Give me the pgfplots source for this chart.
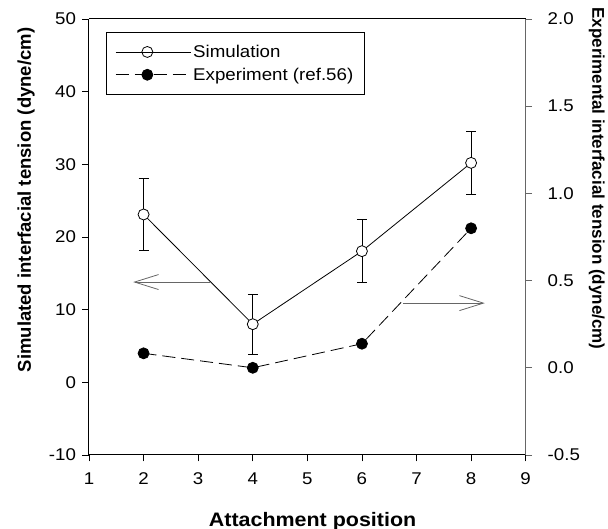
\documentclass[border=0pt]{standalone}
\usepackage{fontspec}
\setmainfont{Liberation Sans}[FakeStretch=1.1]
\newfontfamily\rotlabelfont{Liberation Sans}
\usepackage{pgfplots}
\pgfplotsset{compat=1.18}
\usetikzlibrary{arrows.meta}

\pgfplotstableread{
x  y     e
2  23.1  4.9
4  8.0   4.1
6  18.05 4.35
8  30.2  4.35
}\simtable

\pgfplotstableread{
x  y
2  0.083
4  0.0
6  0.138
8  0.80
}\exptable

\definecolor{arrowgray}{gray}{0.4}

\begin{document}
\begin{tikzpicture}
\pgfplotsset{
  twinaxis/.style={
    scale only axis, width=436.7pt, height=436pt,
    at={(89pt,74pt)}, anchor=south west,
    xmin=1, xmax=9,
    tick align=outside, major tick length=6.5pt,
    /pgf/number format/assume math mode=true,
    ticklabel style={font=\fontsize{17}{17}\selectfont},
    clip=false,
  },
  simstyle/.style={black, line width=0.8pt, mark=*, mark size=5.5pt,
    mark options={fill=white, draw=black, solid}},
  expstyle/.style={black, line width=0.8pt, dash pattern=on 13pt off 6pt,
    mark=*, mark size=5.5pt, mark options={fill=black, solid}},
}

% left axis: simulated tension
\begin{axis}[twinaxis,
  axis x line*=bottom, axis y line*=left,
  axis line style={line width=1pt},
  tick style={line width=0.8pt, black},
  ymin=-10, ymax=50, ytick={-10,0,10,20,30,40,50},
  xtick={1,2,3,4,5,6,7,8,9},
  xticklabel style={yshift=-8pt},
  yticklabel style={xshift=-3pt},
  xlabel={\bfseries Attachment position},
  xlabel style={font=\fontsize{19.5}{19.5}\selectfont, at={(axis description cs:0.512,-0.163)}, anchor=base},
  ylabel={\rotlabelfont\bfseries Simulated interfacial tension (dyne/cm)},
  ylabel style={font=\fontsize{18.5}{18.5}\selectfont, at={(axis description cs:-0.144,0.585)}, anchor=center},
]
\addplot[simstyle, error bars/.cd, y dir=both, y explicit,
  error bar style={line width=0.8pt, solid},
  error mark options={rotate=90, mark size=5pt, line width=0.8pt, black}]
  table[x=x, y=y, y error=e] {\simtable};
\draw[line width=1pt] (rel axis cs:0,1) -- (rel axis cs:1,1);
% arrows pointing to each series' axis
\draw[arrowgray, line width=0.8pt, -{Straight Barb[length=24pt, width=15pt]}]
  (axis cs:3.22,13.8) -- (axis cs:1.81,13.8);
\draw[arrowgray, line width=0.8pt, -{Straight Barb[length=24pt, width=15pt]}]
  (axis cs:6.76,10.9) -- (axis cs:8.25,10.9);
\end{axis}

% right axis: experimental tension
\begin{axis}[twinaxis,
  axis x line=none, axis y line*=right,
  axis line style={line width=0.8pt, black!60},
  tick style={line width=0.8pt, black!60},
  ymin=-0.5, ymax=2.0, ytick={-0.5,0,0.5,1.0,1.5,2.0},
  yticklabel style={xshift=12pt, /pgf/number format/.cd, fixed, fixed zerofill, precision=1},
  ylabel={\rotlabelfont\bfseries Experimental interfacial tension (dyne/cm)},
  ylabel style={font=\fontsize{17}{17}\selectfont, at={(axis description cs:1.163,0.634)}, anchor=center, rotate=180},
  legend style={at={(axis description cs:0.039,0.971)}, anchor=north west,
    draw=black, line width=0.8pt, font=\fontsize{17}{17}\selectfont,
    cells={anchor=west}, row sep=5pt, inner xsep=9pt, inner ysep=11pt},
  legend image code/.code={\draw[mark repeat=2, mark phase=2, #1]
    plot coordinates {(0pt,0pt) (31.5pt,0pt) (63pt,0pt)};
    \path (0pt,0pt) -- (75pt,0pt);},
]
\addlegendimage{simstyle}
\addlegendentry{Simulation}
\addplot[expstyle] table[x=x, y=y] {\exptable};
\addlegendentry{Experiment (ref.56)}
\end{axis}

\pgfresetboundingbox
\path[use as bounding box] (0pt,0pt) rectangle (608pt,529pt);
\end{tikzpicture}
\end{document}
